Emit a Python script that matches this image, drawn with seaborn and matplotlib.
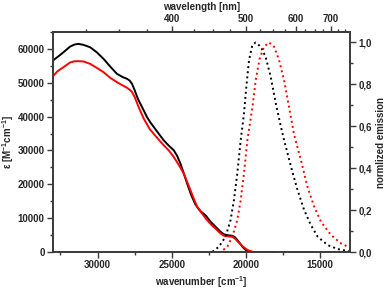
import numpy as np
import pandas as pd
import matplotlib
matplotlib.use("Agg")
import matplotlib.pyplot as plt
import seaborn as sns
from matplotlib.ticker import MultipleLocator, FixedLocator, FuncFormatter

# absorption spectra (wavenumber cm-1, epsilon M-1 cm-1)
abs_nu_black = [33000, 32700, 32300, 31850, 31550, 31300, 30950, 30500, 30050, 29600,
                29150, 28700, 28300, 28020, 27850, 27680, 27500, 27350, 27235, 26950,
                26670, 26445, 26110, 25800, 25545, 25200, 24870, 24650, 24420, 24200,
                23970, 23700, 23405, 23100, 22700, 22400, 22050, 21750, 21490, 21200,
                20925, 20750, 20590, 20400, 20250, 20080, 19910, 19700, 19500, 18000]
abs_eps_black = [56600, 57600, 59000, 60700, 61300, 61500, 61200, 60500, 59000, 57080,
                 54800, 52660, 51660, 51190, 50700, 49700, 47800, 46000, 44800, 42350,
                 39870, 38300, 36300, 34500, 33000, 31400, 30060, 28500, 26140, 23300,
                 20250, 16900, 14000, 12200, 10700, 9000, 7460, 6100, 5210, 4950,
                 4800, 4400, 3540, 2500, 1570, 800, 300, 80, 0, 0]
abs_nu_red = [33000, 32700, 32300, 31850, 31550, 31300, 30950, 30500, 30050, 29600,
              29150, 28700, 28300, 28020, 27850, 27680, 27500, 27235, 26900, 26500,
              26100, 25545, 25200, 24870, 24550, 24195, 23745, 23500, 23290, 23000,
              22700, 22350, 22000, 21750, 21490, 21200, 20925, 20750, 20590, 20400,
              20250, 20000, 19800, 19600, 19400, 18000]
abs_eps_red = [51960, 53400, 54600, 56000, 56350, 56380, 56300, 55600, 54400, 53140,
               51480, 50190, 49200, 48530, 48000, 47240, 45800, 42820, 39500, 36400,
               34300, 31530, 30000, 28090, 25900, 23190, 18270, 15500, 13350, 11600,
               9800, 8100, 6690, 5600, 4800, 4600, 4500, 3950, 3250, 2400,
               1770, 900, 380, 100, 0, 0]

# normalized emission
em_nu_black = [22280, 21830, 21380, 21040, 20815, 20590, 20360, 20140, 19980, 19800,
               19575, 19350, 19010, 18675, 18340, 18000, 17660, 17440, 16985, 16535,
               16085, 15635, 15180, 14500, 13830, 13000]
em_int_black = [0, 0.025, 0.073, 0.153, 0.248, 0.375, 0.534, 0.66, 0.79, 0.916,
                0.988, 1.0, 0.98, 0.93, 0.836, 0.71, 0.60, 0.534, 0.41, 0.296,
                0.2, 0.129, 0.073, 0.033, 0.014, 0.003]
em_nu_red = [21715, 21265, 20925, 20590, 20360, 20140, 19910, 19575, 19350, 19080,
             18790, 18450, 18115, 17775, 17440, 17100, 16763, 16310, 15860, 15410,
             14960, 14280, 13610, 12930]
em_int_red = [0, 0.025, 0.073, 0.153, 0.248, 0.375, 0.534, 0.69, 0.82, 0.924,
              0.98, 1.0, 0.98, 0.916, 0.82, 0.69, 0.56, 0.44, 0.31, 0.216,
              0.145, 0.081, 0.041, 0.018]

sns.set_style("ticks")
plt.rcParams['font.family'] = ['Liberation Sans', 'DejaVu Sans']
plt.rcParams['font.weight'] = 'bold'
plt.rcParams['axes.labelweight'] = 'bold'
plt.rcParams['mathtext.fontset'] = 'custom'
plt.rcParams['mathtext.rm'] = 'Liberation Sans:bold'
plt.rcParams['mathtext.default'] = 'rm'

frame = '#3a3a3a'
fs = 7

fig = plt.figure(figsize=(3.85, 2.91), dpi=100)
ax = fig.add_axes([0.1377, 0.134, 0.7714, 0.756])
ax2 = ax.twinx()

df_ab = pd.DataFrame({'nu': abs_nu_black, 'eps': abs_eps_black})
df_ar = pd.DataFrame({'nu': abs_nu_red, 'eps': abs_eps_red})
df_eb = pd.DataFrame({'nu': em_nu_black, 'em': em_int_black})
df_er = pd.DataFrame({'nu': em_nu_red, 'em': em_int_red})

sns.lineplot(data=df_ab, x='nu', y='eps', color='black', lw=1.4, ax=ax)
sns.lineplot(data=df_ar, x='nu', y='eps', color='red', lw=1.4, ax=ax)
sns.lineplot(data=df_eb, x='nu', y='em', color='black', lw=1.4, linestyle=':', ax=ax2)
sns.lineplot(data=df_er, x='nu', y='em', color='red', lw=1.4, linestyle=':', ax=ax2)

ax.set_xlim(33000, 13000)
ax.set_ylim(0, 65000)
ax2.set_ylim(0, 1.05)

ax.xaxis.set_major_locator(FixedLocator([30000, 25000, 20000, 15000]))
ax.xaxis.set_minor_locator(FixedLocator([32500, 27500, 22500, 17500, 12500]))
ax.yaxis.set_major_locator(MultipleLocator(10000))
ax.yaxis.set_minor_locator(MultipleLocator(5000))
ax2.yaxis.set_major_locator(MultipleLocator(0.2))
ax2.yaxis.set_minor_locator(MultipleLocator(0.1))
ax2.yaxis.set_major_formatter(FuncFormatter(lambda v, p: f"{v:.1f}".replace('.', ',')))

ax.set_xlabel(r'wavenumber [cm$^{-1}$]', fontsize=fs, labelpad=3)
ax.set_ylabel(r'ε [M$^{-1}$cm$^{-1}$]', fontsize=fs, labelpad=1)
ax2.set_ylabel('normlized emission', fontsize=fs, labelpad=3)

top = ax.secondary_xaxis('top', functions=(lambda x: 1e7 / np.maximum(x, 1),
                                           lambda x: 1e7 / np.maximum(x, 1)))
top.set_xticks([400, 500, 600, 700])
top.xaxis.set_minor_locator(FixedLocator(np.arange(300, 776, 25)))
top.set_xlabel('wavelength [nm]', fontsize=fs, labelpad=3)

for a in (ax, ax2, top):
    a.tick_params(which='major', direction='out', length=4, width=1, color=frame,
                  labelsize=fs, pad=2)
    a.tick_params(which='minor', direction='out', length=2, width=1, color=frame)
    for s in a.spines.values():
        s.set_color(frame)
        s.set_linewidth(1.2)
ax.tick_params(top=False, which='both')

for lab in ax.get_xticklabels() + ax.get_yticklabels() + ax2.get_yticklabels() + top.get_xticklabels():
    lab.set_fontweight('bold')

fig.savefig('out.png', dpi=100)
